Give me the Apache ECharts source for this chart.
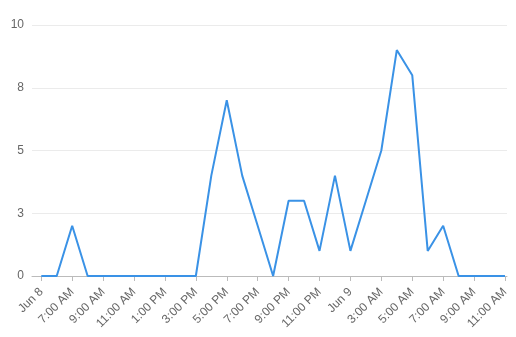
<!DOCTYPE html>
<html><head><meta charset="utf-8">
<script src="https://cdn.jsdelivr.net/npm/echarts@6/dist/echarts.min.js"></script>
<style>html,body{margin:0;padding:0;background:#fff}#c{width:516px;height:337px}</style>
</head><body><div id="c"></div>
<script>
var hours = ['Jun 8','6:00 AM','7:00 AM','8:00 AM','9:00 AM','10:00 AM','11:00 AM','12:00 PM','1:00 PM','2:00 PM','3:00 PM','4:00 PM','5:00 PM','6:00 PM','7:00 PM','8:00 PM','9:00 PM','10:00 PM','11:00 PM','12:00 AM','Jun 9','2:00 AM','3:00 AM','4:00 AM','5:00 AM','6:00 AM','7:00 AM','8:00 AM','9:00 AM','10:00 AM','11:00 AM'];
var values = [0,0,2,0,0,0,0,0,0,0,0,4,7,4,2,0,3,3,1,4,1,3,5,9,8,1,2,0,0,0,0];
var labelIdx = [0,2,4,6,8,10,12,14,16,18,20,22,24,26,28,30];
var yTicks = [0,2.5,5,7.5,10];

var chart = echarts.init(document.getElementById('c'));
chart.setOption({
  animation:false,
  grid:{left:32,right:9,top:25,bottom:61},
  xAxis:{
    type:'value', min:-0.6, max:30.13,
    axisLine:{show:true,lineStyle:{color:'#bbb'}},
    axisTick:{show:true,customValues:labelIdx,length:5,lineStyle:{color:'#bbb'}},
    axisLabel:{customValues:labelIdx,rotate:45,color:'#666',fontSize:12,fontFamily:'Liberation Sans, Arial, sans-serif',margin:14,
      formatter:function(v){return hours[Math.round(v)];}},
    splitLine:{show:false}
  },
  yAxis:{
    type:'value', min:0, max:10, interval:2.5,
    axisLine:{show:false}, axisTick:{show:false},
    axisLabel:{color:'#666',fontSize:12,fontFamily:'Liberation Sans, Arial, sans-serif',margin:8,
      formatter:function(v){return String(Math.round(v));}},
    splitLine:{lineStyle:{color:'#ebebeb'}}
  },
  series:[{
    type:'line', showSymbol:false,
    data: values.map(function(v,i){return [i,v];}),
    lineStyle:{color:'#3a92e6',width:2},
    itemStyle:{color:'#3a92e6'}
  }]
});
</script></body></html>
